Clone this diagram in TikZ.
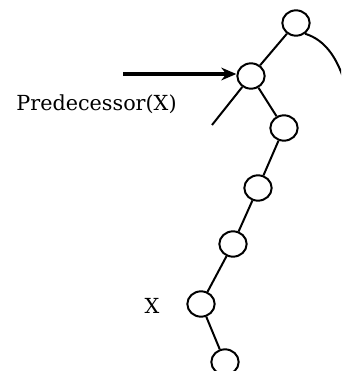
\documentclass[tikz,border=0pt]{standalone}
\usepackage{fontspec}
\setmainfont{DejaVu Serif}
\usetikzlibrary{shapes.geometric,arrows.meta}

\begin{document}
\begin{tikzpicture}[x=0.03cm,y=-0.03cm,>={Stealth[length=4.5mm,width=3.8mm]},line width=1.7pt,
    every node/.style={font=\fontsize{17.7}{20}\selectfont},
    vert/.style={draw,ellipse,inner sep=0pt,minimum width=0.82cm,minimum height=0.76cm}]
  \useasboundingbox (0,0) rectangle (341,371);
  \clip (0,0) rectangle (341,371);
  \node[vert] (t) at (296,23) {};
  \node[vert] (p) at (251,76) {};
  \node[vert] (a) at (284,128) {};
  \node[vert] (b) at (258,188) {};
  \node[vert] (c) at (233,244) {};
  \node[vert] (x) at (201,304) {};
  \node[vert] (d) at (225,362) {};
  \coordinate (ptr) at (123,74);
  \coordinate (lft) at (212,125);
  \coordinate (rgt) at (348,95);
  \node[anchor=base] (plabel) at (96.5,111) {Predecessor(X)};
  \node[anchor=base] (xlabel) at (152,313) {X};
  \path (t) edge (p)
        (p) edge (a)
        (a) edge (b)
        (b) edge (c)
        (c) edge (x)
        (x) edge (d)
        (p) edge (lft);
  \draw (t.-50) .. controls (326,40) and (340,60) .. (rgt);
  \draw[->,line width=2.6pt] (ptr) -- (ptr -| p.west);
\end{tikzpicture}
\end{document}
